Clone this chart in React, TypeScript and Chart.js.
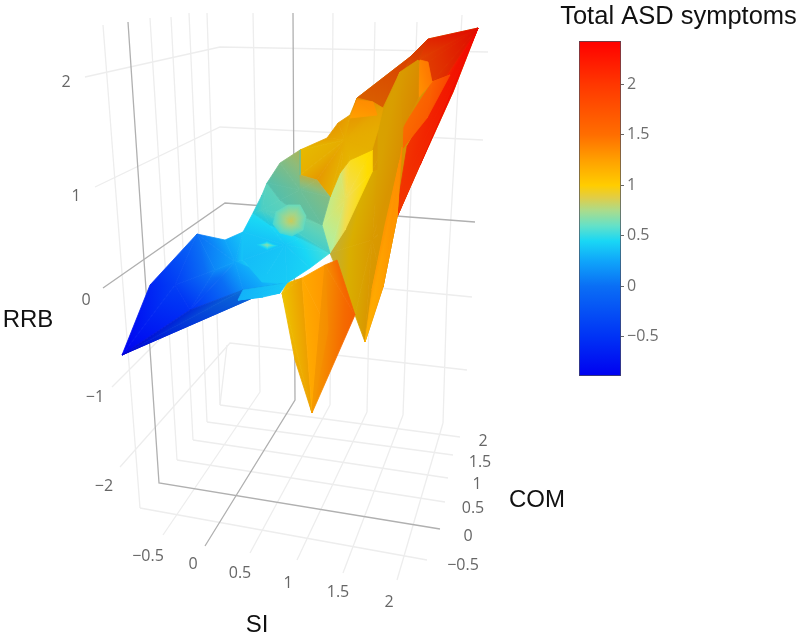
import React, { useEffect, useRef } from "react";
import { Chart, registerables } from "chart.js";

Chart.register(...registerables);

// ---------- colour scale of the colour bar ----------
const scaleValues = [-0.887, -0.5, 0, 0.25, 0.45, 0.6, 0.75, 0.88, 1, 1.25, 1.5, 2, 2.43];
const scaleReds = [0, 0, 10, 15, 25, 100, 170, 225, 255, 255, 255, 255, 255];
const scaleGreens = [0, 50, 110, 165, 215, 225, 220, 205, 205, 160, 110, 55, 0];
const scaleBlues = [240, 245, 245, 250, 245, 200, 140, 70, 0, 0, 0, 0, 0];
const colorbarTicks = [-0.5, 0, 0.5, 1, 1.5, 2];
const colorbarTitle = "Total ASD symptoms";

// ---------- surface facets seen in the view plane: [shade, x, y, value, x, y, value, ...] ----------
const surfaceFaces: number[][] = [
  // backing of the right-hand folds
  [0.85, 400, 120, 1.2, 357, 98, 1.2, 410, 57, 1.2, 428, 39, 1.2, 478, 28, 1.2, 453, 92, 1.2, 420, 165, 1.2, 397, 217, 1.2, 383, 287, 1.2, 372, 170, 1.1, 340, 150, 1.1, 357, 98, 1.2],
  // red flank
  [0.95, 478, 28, 2.4, 453, 92, 2.35, 420, 165, 2.25, 397, 217, 1.95, 400, 190, 2.0, 407, 147, 2.0, 440, 85, 2.05],
  // dark red top
  [0.88, 478, 28, 2.35, 440, 85, 2.0, 432, 82, 1.9, 428, 62, 1.9, 418, 60, 1.8, 428, 39, 2.1],
  [0.85, 410, 57, 1.8, 428, 39, 2.0, 418, 60, 1.8, 400, 72, 1.5],
  [0.85, 410, 57, 1.8, 400, 72, 1.5, 383, 108, 1.5, 357, 98, 1.5],
  // orange strips
  [0.98, 432, 82, 1.6, 445, 78, 1.8, 450, 75, 1.85, 427, 118, 1.65, 403, 148, 1.55, 403, 127, 1.5],
  [1, 420, 60, 1.4, 428, 62, 1.45, 432, 82, 1.45, 418, 98, 1.3],
  // gold band
  [0.85, 400, 72, 1.12, 418, 60, 1.2, 418, 98, 1.25, 403, 127, 1.2, 402, 147, 1.2, 378, 170, 1.08, 378, 130, 1.08, 383, 108, 1.12],
  [0.85, 372, 240, 1.13, 378, 170, 1.08, 402, 147, 1.2, 397, 217, 1.18, 383, 287, 1.18, 365, 342, 1.15, 355, 315, 1.05, 330, 253, 0.88, 372, 172, 1.03, 378, 170, 1.08],
  [1, 400, 160, 1.35, 402, 147, 1.4, 397, 217, 1.3, 383, 287, 1.25, 365, 342, 1.15, 372, 290, 1.25, 385, 225, 1.3],
  // pale yellow band
  [1.08, 345, 200, 0.85, 330, 253, 0.72, 322, 225, 0.75, 330, 197, 0.78, 340, 173, 0.8, 350, 160, 0.95, 372, 150, 1.03, 372, 172, 1.03, 345, 230, 0.88, 330, 253, 0.72],
  // bumpy gold crest
  [0.9, 345, 140, 1.08, 300, 150, 1.0, 327, 138, 1.15, 338, 123, 1.2, 350, 115, 1.15, 357, 98, 1.3, 373, 102, 1.25, 383, 108, 1.15, 378, 130, 1.08, 372, 150, 1.05, 350, 160, 1.02, 340, 173, 1.05, 330, 197, 1.05, 317, 180, 1.2, 300, 175, 1.05, 300, 150, 1.0],
  [1, 357, 100, 1.35, 373, 102, 1.35, 377, 115, 1.3, 350, 118, 1.25],
  // front spike
  [0.93, 282, 293, 0.98, 287, 283, 1.0, 302, 278, 1.2, 312, 413, 1.18, 295, 360, 1.12],
  [1, 302, 278, 1.2, 325, 265, 1.3, 328, 330, 1.3, 312, 413, 1.2],
  [0.96, 325, 265, 1.3, 337, 260, 1.5, 355, 315, 1.6, 312, 413, 1.25, 328, 330, 1.32],
  // blue sheet, left and right
  [1, 175, 285, -0.4, 122, 355, -0.88, 150, 285, -0.6, 197, 234, 0, 215, 270, 0.12, 190, 310, -0.5, 122, 355, -0.88],
  [1, 235, 262, 0.25, 197, 234, 0, 225, 240, 0.25, 243, 232, 0.38, 243, 260, 0.38, 262, 282, 0.4, 287, 283, 0.42, 243, 290, 0.15, 190, 310, -0.5, 215, 270, 0.12, 197, 234, 0],
  [0.88, 122, 355, -0.88, 190, 310, -0.5, 243, 290, 0.1, 287, 283, 0.25, 238, 300, 0],
  [1, 238, 300, 0.3, 247, 293, 0.32, 263, 297, 0.35, 280, 293, 0.38, 287, 283, 0.4, 243, 290, 0.3],
  // cyan foot of the slope
  [1, 285, 245, 0.38, 243, 232, 0.38, 253, 213, 0.48, 270, 225, 0.46, 300, 238, 0.48, 330, 253, 0.55, 310, 268, 0.44, 287, 283, 0.4, 262, 282, 0.38, 243, 260, 0.34, 243, 232, 0.38],
  // pale streak on the foot
  [1, 267, 245, 0.68, 257, 245, 0.38, 267, 241, 0.38, 278, 246, 0.38, 267, 250, 0.38, 257, 245, 0.38],
  // teal slope, duller upward
  [0.93, 262, 210, 0.56, 253, 213, 0.48, 262, 195, 0.56, 267, 183, 0.6, 280, 200, 0.6, 300, 215, 0.62, 322, 225, 0.64, 330, 253, 0.55, 300, 238, 0.48, 270, 225, 0.46, 253, 213, 0.48],
  [0.85, 300, 190, 0.66, 267, 183, 0.6, 280, 163, 0.7, 300, 150, 0.82, 300, 175, 0.85, 317, 180, 0.85, 330, 197, 0.72, 322, 225, 0.64, 300, 215, 0.62, 280, 200, 0.6, 267, 183, 0.6],
  // swirl
  [0.97, 291, 221, 0.84, 276, 212, 0.6, 288, 205, 0.62, 300, 205, 0.62, 306, 216, 0.62, 303, 230, 0.6, 292, 236, 0.55, 280, 233, 0.55, 273, 224, 0.55, 276, 212, 0.6],
];

// ---------- box grid in the view plane: [x, y, x, y, ...] ----------
const lightGrid: number[][] = [
  [103, 25, 140, 508],
  [150, 18, 177, 460],
  [171, 17, 193, 440],
  [189, 13, 207, 422],
  [207, 13, 220, 405],
  [227, 345, 220, 405],
  [253, 13, 260, 392],
  [333, 13, 330, 405],
  [375, 22, 367, 412],
  [417, 22, 403, 415],
  [462, 15, 447, 290, 443, 423],
  [85, 77, 220, 47, 488, 52],
  [95, 187, 220, 127, 483, 140],
  [112, 387, 226, 273, 472, 297],
  [120, 467, 230, 343, 467, 370],
  [140, 508, 427, 560],
  [177, 460, 445, 502],
  [193, 440, 448, 478],
  [207, 422, 453, 455],
  [220, 405, 460, 437],
  [163, 535, 260, 392],
  [250, 553, 330, 405],
  [297, 560, 367, 412],
  [343, 573, 403, 415],
  [397, 580, 443, 423],
];
const darkGrid: number[][] = [
  [128, 22, 159, 483, 440, 529],
  [293, 13, 295, 400, 205, 546],
  [103, 288, 225, 203, 475, 222],
];

// ---------- tick labels ----------
const siTicks = ["\u22120.5", "0", "0.5", "1", "1.5", "2"];
const siTickX = [148, 193, 240, 288, 338, 389];
const siTickY = [556, 564, 573, 583, 592, 602];
const comTicks = ["2", "1.5", "1", "0.5", "0", "\u22120.5"];
const comTickX = [483, 480, 477, 473, 468, 463];
const comTickY = [441, 462, 484, 508, 536, 565];
const rrbTicks = ["2", "1", "0", "\u22121", "\u22122"];
const rrbTickX = [66, 76, 86, 95, 104];
const rrbTickY = [82, 196, 300, 397, 486];
const axisTitles = ["RRB", "COM", "SI"];
const axisTitleX = [28, 537, 257];
const axisTitleY = [320, 500, 625];

const TICK_FONT = '16px "Open Sans"';
const TITLE_FONT = '24px "Liberation Sans"';
const BAR_TITLE_FONT = '25.5px "Liberation Sans"';

function colorFor(value: number, shade = 1): string {
  let i = 0;
  while (i < scaleValues.length - 2 && value > scaleValues[i + 1]) i++;
  const t = Math.max(0, Math.min(1, (value - scaleValues[i]) / (scaleValues[i + 1] - scaleValues[i])));
  const mix = (a: number[]) => Math.min(255, Math.round((a[i] + (a[i + 1] - a[i]) * t) * shade));
  return `rgb(${mix(scaleReds)},${mix(scaleGreens)},${mix(scaleBlues)})`;
}

type V = { x: number; y: number; v: number };

function triangles(face: number[]) {
  const verts: V[] = [];
  for (let i = 1; i < face.length; i += 3) verts.push({ x: face[i], y: face[i + 1], v: face[i + 2] });
  const out: { shade: number; tri: V[] }[] = [];
  for (let i = 1; i < verts.length - 1; i++) out.push({ shade: face[0], tri: [verts[0], verts[i], verts[i + 1]] });
  return out;
}

function triangleFill(ctx: any, shade: number, tri: V[]) {
  const chart = ctx.chart;
  const sx = chart.scales.x;
  const sy = chart.scales.y;
  if (!sx || !sy) return colorFor(tri[0].v, shade);
  const p = tri.map((t) => ({ x: sx.getPixelForValue(t.x), y: sy.getPixelForValue(t.y), v: t.v }));
  if (p.some((q) => !isFinite(q.x) || !isFinite(q.y))) return colorFor(tri[0].v, shade);
  const d1 = { x: p[1].x - p[0].x, y: p[1].y - p[0].y, v: p[1].v - p[0].v };
  const d2 = { x: p[2].x - p[0].x, y: p[2].y - p[0].y, v: p[2].v - p[0].v };
  const det = d1.x * d2.y - d2.x * d1.y;
  const vMin = Math.min(p[0].v, p[1].v, p[2].v);
  const vMax = Math.max(p[0].v, p[1].v, p[2].v);
  if (Math.abs(det) < 1e-6 || vMax - vMin < 1e-6) return colorFor(tri[0].v, shade);
  const gx = (d1.v * d2.y - d2.v * d1.y) / det;
  const gy = (d1.x * d2.v - d2.x * d1.v) / det;
  const n = gx * gx + gy * gy;
  const low = p.find((q) => q.v === vMin)!;
  const span = vMax - vMin;
  const g = chart.ctx.createLinearGradient(low.x, low.y, low.x + (gx * span) / n, low.y + (gy * span) / n);
  g.addColorStop(0, colorFor(vMin, shade));
  scaleValues.forEach((s) => {
    if (s > vMin && s < vMax) g.addColorStop((s - vMin) / span, colorFor(s, shade));
  });
  g.addColorStop(1, colorFor(vMax, shade));
  return g;
}

const labelPlugin = {
  id: "viewLabels",
  afterDraw(chart: any) {
    const { ctx, scales } = chart;
    const put = (texts: string[], xs: number[], ys: number[], font: string, color: string) => {
      ctx.save();
      ctx.font = font;
      ctx.fillStyle = color;
      ctx.textAlign = "center";
      ctx.textBaseline = "middle";
      texts.forEach((t, i) => ctx.fillText(t, scales.x.getPixelForValue(xs[i]), scales.y.getPixelForValue(ys[i])));
      ctx.restore();
    };
    put(siTicks, siTickX, siTickY, TICK_FONT, "#666");
    put(comTicks, comTickX, comTickY, TICK_FONT, "#666");
    put(rrbTicks, rrbTickX, rrbTickY, TICK_FONT, "#666");
    put(axisTitles, axisTitleX, axisTitleY, TITLE_FONT, "#111");
  },
};

const colorbarTitlePlugin = {
  id: "colorbarTitle",
  afterDraw(chart: any) {
    const { ctx } = chart;
    ctx.save();
    ctx.font = BAR_TITLE_FONT;
    ctx.fillStyle = "#111";
    ctx.textAlign = "center";
    ctx.textBaseline = "alphabetic";
    ctx.fillText(colorbarTitle, chart.width / 2, 24);
    ctx.restore();
  },
};

function pairs(flat: number[]) {
  const pts = [];
  for (let i = 0; i < flat.length; i += 2) pts.push({ x: flat[i], y: flat[i + 1] });
  return pts;
}

export default function App() {
  const viewRef = useRef<HTMLCanvasElement>(null);
  const barRef = useRef<HTMLCanvasElement>(null);

  useEffect(() => {
    const lineSets = [
      ...lightGrid.map((l) => ({ flat: l, color: "#ededed", width: 1.3 })),
      ...darkGrid.map((l) => ({ flat: l, color: "#b0b0b0", width: 1.3 })),
    ].map((l) => ({
      data: pairs(l.flat),
      showLine: true,
      fill: false,
      borderColor: l.color,
      borderWidth: l.width,
      pointRadius: 0,
      tension: 0,
    }));
    const faceSets = surfaceFaces.flatMap((f) =>
      triangles(f).map(({ shade, tri }) => {
        const paint = (ctx: any) => triangleFill(ctx, shade, tri);
        return {
          data: [...tri, tri[0]].map((t) => ({ x: t.x, y: t.y })),
          showLine: true,
          fill: "shape",
          backgroundColor: paint,
          borderColor: paint,
          borderWidth: 0.8,
          pointRadius: 0,
          tension: 0,
        };
      })
    );
    const ordered = [...lineSets, ...faceSets];
    ordered.forEach((d: any, i) => (d.order = ordered.length - i));

    const view = new Chart(viewRef.current!, {
      type: "scatter",
      data: { datasets: ordered as any },
      options: {
        animation: false,
        responsive: false,
        layout: { padding: 0 },
        scales: {
          x: { type: "linear", min: 0, max: 800, display: false },
          y: { type: "linear", min: 0, max: 642, reverse: true, display: false },
        },
        plugins: {
          legend: { display: false },
          tooltip: { enabled: false },
          filler: { drawTime: "beforeDatasetDraw" },
        },
      } as any,
      plugins: [labelPlugin],
    });

    const bar = new Chart(barRef.current!, {
      type: "bar",
      data: {
        labels: [colorbarTitle],
        datasets: [
          {
            data: [[scaleValues[0], scaleValues[scaleValues.length - 1]]] as any,
            barPercentage: 1,
            categoryPercentage: 1,
            borderColor: "#4a4a5a",
            borderWidth: 1,
            borderSkipped: false,
            backgroundColor: (ctx: any) => {
              const { chart } = ctx;
              const sy = chart.scales.y;
              if (!sy) return "#888";
              const low = sy.getPixelForValue(scaleValues[0]);
              const high = sy.getPixelForValue(scaleValues[scaleValues.length - 1]);
              if (!isFinite(low) || !isFinite(high) || low === high) return "#888";
              const g = chart.ctx.createLinearGradient(0, low, 0, high);
              scaleValues.forEach((s) =>
                g.addColorStop((s - scaleValues[0]) / (scaleValues[scaleValues.length - 1] - scaleValues[0]), colorFor(s))
              );
              return g;
            },
          },
        ],
      },
      options: {
        animation: false,
        responsive: false,
        layout: { padding: { left: 22, right: 119, top: 41, bottom: 16 } },
        scales: {
          x: { display: false },
          y: {
            position: "right",
            min: scaleValues[0],
            max: scaleValues[scaleValues.length - 1],
            afterBuildTicks: (s: any) => {
              s.ticks = colorbarTicks.map((value) => ({ value }));
            },
            afterFit: (s: any) => {
              s.width = 60;
            },
            grid: { display: true, drawOnChartArea: false, tickLength: 3, color: "#666" },
            border: { display: false },
            ticks: {
              color: "#6e6e6e",
              font: { family: "Open Sans", size: 16 },
              padding: 3,
              callback: (v: any) => String(v).replace("-", "\u2212"),
            },
          },
        },
        plugins: {
          legend: { display: false },
          tooltip: { enabled: false },
        },
      } as any,
      plugins: [colorbarTitlePlugin],
    });

    return () => {
      view.destroy();
      bar.destroy();
    };
  }, []);

  const soft = "blur(0.45px)";
  return (
    <div style={{ position: "absolute", left: 0, top: 0, width: 800, height: 642, background: "#fff" }}>
      <canvas ref={viewRef} width={800} height={642} style={{ position: "absolute", left: 0, top: 0, filter: soft }} />
      <canvas ref={barRef} width={243} height={392} style={{ position: "absolute", left: 557, top: 0, filter: soft }} />
    </div>
  );
}
